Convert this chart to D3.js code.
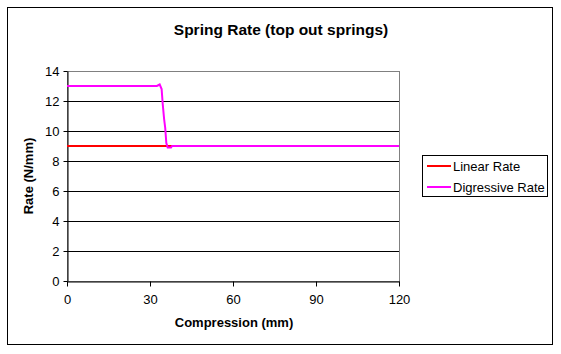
<!DOCTYPE html>
<html>
<head>
<meta charset="utf-8">
<script src="https://cdn.jsdelivr.net/npm/d3@7"></script>
<style>
body{margin:0;background:#fff;}
text{font-family:"Liberation Sans",Arial,sans-serif;}
</style>
</head>
<body>
<script>
var WIDTH = 561, HEIGHT = 354;
var PLOT = {left:67, top:71, right:399, bottom:281};

var xTicks = [0, 30, 60, 90, 120];
var yTicks = [0, 2, 4, 6, 8, 10, 12, 14];

var linearX = [0, 120];
var linearY = [9, 9];

var digressiveX = [0, 32.5, 33.5, 34.2, 34.6, 35.1, 35.5, 35.9, 36.4, 37.6, 38, 120];
var digressiveY = [13, 13, 13.1, 12.8, 11.8, 10.8, 10.2, 9.2, 8.9, 8.9, 9, 9];

var seriesNames = ["Linear Rate", "Digressive Rate"];
var seriesColors = ["#ff0000", "#ff00ff"];

var zip = function(xs, ys){ return xs.map(function(x,i){ return [x, ys[i]]; }); };
var seriesData = [zip(linearX, linearY), zip(digressiveX, digressiveY)];

var _svg = d3.select('body').append('svg')
	.attr('width', WIDTH)
	.attr('height', HEIGHT);

// outer chart border
_svg.append('rect')
	.attr('x', 7.5).attr('y', 7.5)
	.attr('width', 545).attr('height', 337)
	.attr('fill', '#fff').attr('stroke', '#000').attr('stroke-width', 1);

var _xScale = d3.scaleLinear().domain([0,120]).range([PLOT.left, PLOT.right]);
var _yScale = d3.scaleLinear().domain([0,14]).range([PLOT.bottom, PLOT.top]);

// plot area frame (gray)
_svg.append('rect')
	.attr('x', PLOT.left + 0.5).attr('y', PLOT.top + 0.5)
	.attr('width', PLOT.right - PLOT.left).attr('height', PLOT.bottom - PLOT.top)
	.attr('fill', 'none').attr('stroke', '#808080');

// gridlines
_svg.append('g').selectAll('line').data(yTicks.filter(function(d){ return d > 0 && d < 14; }))
	.enter().append('line')
	.attr('x1', PLOT.left).attr('x2', PLOT.right)
	.attr('y1', function(d){ return Math.round(_yScale(d)) + 0.5; })
	.attr('y2', function(d){ return Math.round(_yScale(d)) + 0.5; })
	.attr('stroke', '#000');

var styleAxis = function(g){
	g.select('.domain').attr('stroke', '#000');
	g.selectAll('.tick line').attr('stroke', '#000');
	g.selectAll('.tick text').attr('fill', '#000')
		.style('font-size', '13px');
};

_svg.append('g')
	.attr('transform', 'translate(' + (PLOT.left + 0.5) + ',0)')
	.call(d3.axisLeft(_yScale).tickValues(yTicks).tickSize(4).tickSizeOuter(0).tickPadding(4))
	.call(styleAxis);

_svg.append('g')
	.attr('transform', 'translate(0,' + (PLOT.bottom + 0.5) + ')')
	.call(d3.axisBottom(_xScale).tickValues(xTicks).tickSize(5).tickSizeOuter(0).tickPadding(8))
	.call(styleAxis);

var line = d3.line()
	.x(function(d){ return _xScale(d[0]); })
	.y(function(d){ return _yScale(d[1]); });

_svg.append('g').selectAll('path').data(seriesData)
	.enter().append('path')
	.attr('d', line)
	.attr('fill', 'none')
	.attr('stroke', function(d,i){ return seriesColors[i]; })
	.attr('stroke-width', 2);

// titles
_svg.append('text')
	.attr('x', 281).attr('y', 35)
	.attr('text-anchor', 'middle')
	.style('font-size', '15.5px').style('font-weight', 'bold')
	.text('Spring Rate (top out springs)');

_svg.append('text')
	.attr('x', 234).attr('y', 327)
	.attr('text-anchor', 'middle')
	.style('font-size', '13px').style('font-weight', 'bold')
	.text('Compression (mm)');

_svg.append('text')
	.attr('transform', 'translate(33,176) rotate(-90)')
	.attr('text-anchor', 'middle')
	.style('font-size', '13px').style('font-weight', 'bold')
	.text('Rate (N/mm)');

// legend
var legend = _svg.append('g').attr('transform', 'translate(422,155)');
legend.append('rect')
	.attr('x', 0.5).attr('y', 0.5).attr('width', 125).attr('height', 41)
	.attr('fill', '#fff').attr('stroke', '#000');

var item = legend.selectAll('.item').data(seriesNames)
	.enter().append('g')
	.attr('transform', function(d,i){ return 'translate(0,' + (11 + i*21) + ')'; });
item.append('line')
	.attr('x1', 5).attr('x2', 29).attr('y1', 0).attr('y2', 0)
	.attr('stroke', function(d,i){ return seriesColors[i]; })
	.attr('stroke-width', 2);
item.append('text')
	.attr('x', 31).attr('y', 5)
	.style('font-size', '13px')
	.text(function(d){ return d; });
</script>
</body>
</html>
